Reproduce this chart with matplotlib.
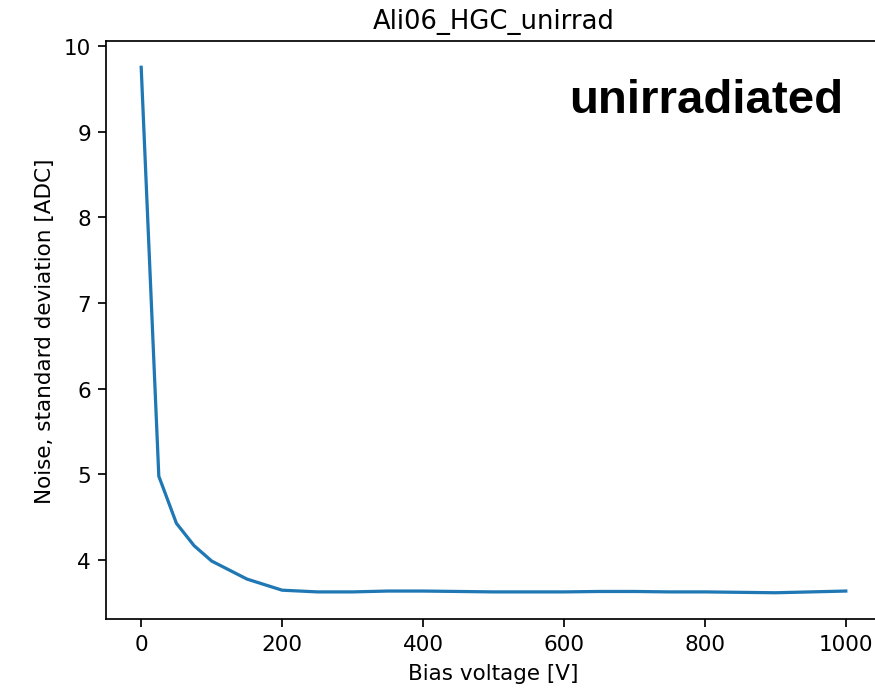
import matplotlib
matplotlib.use("Agg")
import matplotlib.pyplot as plt

bias_v = [0, 25, 50, 75, 100, 150, 200, 250, 300, 350, 400, 450, 500,
          550, 600, 650, 700, 750, 800, 850, 900, 950, 1000]
noise = [9.75, 4.98, 4.43, 4.17, 3.99, 3.78, 3.65, 3.63, 3.63, 3.64, 3.64,
         3.635, 3.63, 3.63, 3.63, 3.635, 3.635, 3.63, 3.63, 3.625, 3.62,
         3.63, 3.64]

dpi = 155
fig = plt.figure(figsize=(875 / dpi, 690 / dpi), dpi=dpi)
ax = fig.add_axes([0.1211, 0.1014, 0.8858, 0.8377])

ax.plot(bias_v, noise)
ax.set_title("Ali06_HGC_unirrad")
ax.set_xlabel("Bias voltage [V]")
ax.set_ylabel("Noise, standard deviation [ADC]")
ax.text(0.951, 0.877, "unirradiated", transform=ax.transAxes,
        ha="right", va="baseline", fontsize=22, fontweight="bold",
        family="Liberation Sans")

fig.savefig("out.png", dpi=dpi)
